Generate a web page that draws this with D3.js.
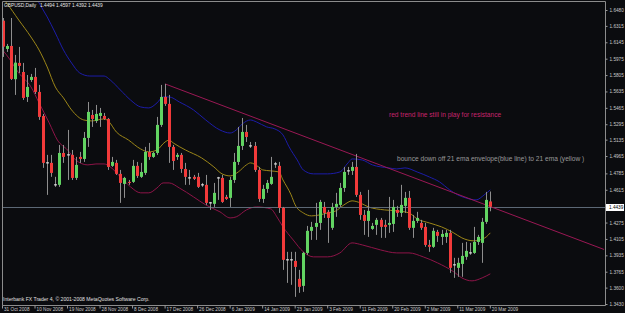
<!DOCTYPE html>
<html>
<head>
<meta charset="utf-8">
<script src="https://cdn.jsdelivr.net/npm/d3@7"></script>
<style>
  html, body { margin: 0; padding: 0; background: #0b0c0f; }
  svg { display: block; }
  text { font-family: "Liberation Sans", Arial, sans-serif; }
</style>
</head>
<body>
<div id="chart"></div>
<script>
// GBPUSD daily, bar 0 = 31 Oct 2008 ... bar 120 = 20 Mar 2009
const opens = [1.6369,1.6076,1.6107,1.5762,1.5931,1.5837,1.5578,1.5754,1.5786,1.5630,
  1.5381,1.4894,1.4894,1.4666,1.4666,1.4997,1.4977,1.4977,1.4738,1.4956,
  1.4935,1.5153,1.5391,1.5329,1.5381,1.5381,1.5350,1.4863,1.4894,1.4780,
  1.4676,1.4697,1.4697,1.4863,1.4749,1.4790,1.5008,1.4956,1.4997,1.5288,
  1.5578,1.5506,1.5060,1.4956,1.4977,1.4831,1.4738,1.4749,1.4749,1.4666,
  1.4666,1.4479,1.4469,1.4738,1.4738,1.4541,1.4531,1.4717,1.4904,1.5070,
  1.5215,1.5070,1.5070,1.4821,1.4520,1.4624,1.4676,1.4883,1.4863,1.4427,
  1.3888,1.3888,1.3877,1.3691,1.3618,1.3960,1.4189,1.4230,1.4271,1.4437,
  1.4386,1.4220,1.4437,1.4458,1.4634,1.4811,1.4811,1.4852,1.4562,1.4354,
  1.4292,1.4209,1.4251,1.4303,1.4251,1.4251,1.4261,1.4406,1.4375,1.4448,
  1.4531,1.4220,1.4292,1.4271,1.4230,1.4043,1.4023,1.4178,1.4126,1.4126,
  1.4168,1.3836,1.3805,1.3846,1.3919,1.3960,1.3960,1.4074,1.4064,1.4282,
  1.4494];
const highs = [1.6397,1.6128,1.6397,1.6014,1.6097,1.5931,1.5806,1.5817,1.5879,1.5703,
  1.5402,1.4977,1.4977,1.4749,1.5080,1.5080,1.5236,1.5028,1.4956,1.5008,
  1.5215,1.5526,1.5443,1.5495,1.5464,1.5412,1.5360,1.4956,1.4925,1.4821,
  1.4749,1.4717,1.4925,1.4904,1.4894,1.5060,1.5101,1.5008,1.5371,1.5703,
  1.5713,1.5599,1.5080,1.4997,1.4997,1.4894,1.4821,1.4769,1.4790,1.4686,
  1.4769,1.4489,1.4686,1.4749,1.4769,1.4562,1.4749,1.4997,1.5267,1.5360,
  1.5288,1.5111,1.5111,1.4852,1.4666,1.4717,1.4956,1.4904,1.4904,1.4437,
  1.3971,1.3971,1.3971,1.3784,1.3971,1.4240,1.4282,1.4479,1.4510,1.4489,
  1.4406,1.4479,1.4583,1.4686,1.4852,1.4852,1.4904,1.4987,1.4593,1.4406,
  1.4614,1.4271,1.4323,1.4323,1.4303,1.4541,1.4510,1.4448,1.4666,1.4593,
  1.4603,1.4354,1.4386,1.4303,1.4271,1.4095,1.4220,1.4199,1.4199,1.4199,
  1.4199,1.3909,1.3909,1.4064,1.4074,1.4064,1.4230,1.4147,1.4323,1.4593,
  1.4597];
const lows = [1.5993,1.6045,1.5754,1.5599,1.5827,1.5547,1.5526,1.5734,1.5609,1.5340,
  1.4842,1.4562,1.4749,1.4645,1.4645,1.4894,1.4717,1.4717,1.4717,1.4894,
  1.4904,1.5060,1.5267,1.5308,1.5267,1.5340,1.4821,1.4852,1.4769,1.4479,
  1.4531,1.4666,1.4686,1.4738,1.4738,1.4769,1.4925,1.4946,1.4977,1.5267,
  1.5485,1.4894,1.4821,1.4925,1.4790,1.4666,1.4666,1.4717,1.4634,1.4645,
  1.4458,1.4406,1.4437,1.4510,1.4479,1.4510,1.4437,1.4686,1.4873,1.5028,
  1.5111,1.5049,1.4800,1.4489,1.4479,1.4583,1.4666,1.4842,1.4375,1.3784,
  1.3649,1.3629,1.3504,1.3546,1.3556,1.3940,1.4095,1.4095,1.4199,1.4323,
  1.4064,1.4199,1.4334,1.4437,1.4593,1.4769,1.4769,1.4541,1.4303,1.4147,
  1.4126,1.4199,1.4147,1.4116,1.4116,1.4168,1.4178,1.4334,1.4334,1.4375,
  1.4199,1.4116,1.4271,1.4199,1.4023,1.3971,1.4012,1.4074,1.4043,1.4064,
  1.3753,1.3701,1.3712,1.3712,1.3888,1.3940,1.3950,1.4043,1.3857,1.4261,
  1.4392];
const closes = [1.6100,1.6107,1.5765,1.5934,1.5900,1.5568,1.5682,1.5786,1.5630,1.5371,
  1.4894,1.4894,1.4790,1.4666,1.4997,1.4956,1.4977,1.4738,1.4873,1.4935,
  1.5153,1.5423,1.5350,1.5402,1.5412,1.5350,1.4852,1.4904,1.4780,1.4686,
  1.4738,1.4686,1.4863,1.4759,1.4800,1.5008,1.4956,1.4997,1.5288,1.5578,
  1.5506,1.5060,1.4914,1.4977,1.4831,1.4749,1.4738,1.4728,1.4645,1.4666,
  1.4479,1.4479,1.4583,1.4738,1.4489,1.4520,1.4717,1.4904,1.5070,1.5215,
  1.5163,1.5070,1.4821,1.4520,1.4624,1.4686,1.4749,1.4883,1.4427,1.3888,
  1.3888,1.3888,1.3815,1.3608,1.3960,1.4189,1.4230,1.4271,1.4489,1.4375,
  1.4323,1.4437,1.4469,1.4634,1.4800,1.4811,1.4852,1.4562,1.4354,1.4292,
  1.4396,1.4240,1.4303,1.4230,1.4230,1.4271,1.4437,1.4375,1.4458,1.4531,
  1.4220,1.4292,1.4323,1.4220,1.4043,1.4023,1.4189,1.4137,1.4157,1.4168,
  1.3805,1.3836,1.3857,1.3929,1.3981,1.3960,1.4074,1.4126,1.4282,1.4510,
  1.4439];

// 21 ema (yellow) at these bars
const emaBars   = [0,1,4,7,9,11,13,15,17,20,22,25,26,28,31,34,36,38,40,41,42,45,49,52,54,56,58,60,61,63,64,66,68,69,71,72,74,76,78,80,82,84,86,88,90,94,97,100,102,105,108,111,113,116,117.5,119,120];
const emaValues = [1.6605,1.6553,1.6376,1.6200,1.6065,1.5889,1.5681,1.5568,1.5443,1.5339,1.5329,1.5350,1.5329,1.5215,1.5131,1.5038,1.5008,1.5028,1.5111,1.5131,1.5101,1.5028,1.4945,1.4852,1.4780,1.4759,1.4800,1.4873,1.4894,1.4852,1.4821,1.4811,1.4800,1.4717,1.4562,1.4458,1.4375,1.4344,1.4354,1.4375,1.4396,1.4458,1.4500,1.4479,1.4437,1.4406,1.4396,1.4375,1.4313,1.4271,1.4230,1.4168,1.4116,1.4085,1.4095,1.4126,1.4168];

// envelope upper band (blue)
const upperBars   = [8,9,11,13,15,17,19,21.5,25,26.5,29,31.5,34,36,38,39.5,41,43.5,47,50,53.5,56,57.5,59,61,62.5,65,67,69,70.5,72.5,74,76.5,80,83,85,86,88.5,91,95,97,99,102,105,107.5,110,112,114,116.5,118.5,120];
const upperValues = [1.6636,1.6553,1.6408,1.6241,1.6065,1.5930,1.5827,1.5795,1.5795,1.5754,1.5650,1.5546,1.5474,1.5464,1.5516,1.5578,1.5578,1.5526,1.5443,1.5339,1.5235,1.5204,1.5235,1.5298,1.5339,1.5318,1.5267,1.5246,1.5184,1.5060,1.4924,1.4820,1.4780,1.4780,1.4800,1.4894,1.4935,1.4924,1.4873,1.4842,1.4831,1.4842,1.4800,1.4748,1.4697,1.4614,1.4562,1.4530,1.4510,1.4562,1.4614];

// envelope lower band (crimson)
const lowerBars   = [0,1,4,7,9,11.5,13.5,16,18,21,23,25,26.5,29,31.5,34,36,38,39.5,41,43.5,47,50,53.5,56,57.5,60,62.5,66,67.5,69,71.5,74,76.5,80,83,86,88.5,93,97,100,103.5,107,111,113,115.5,118,120];
const lowerValues = [1.6065,1.6014,1.5827,1.5682,1.5516,1.5308,1.5131,1.5028,1.4924,1.4873,1.4883,1.4883,1.4852,1.4749,1.4645,1.4583,1.4583,1.4634,1.4686,1.4686,1.4634,1.4541,1.4458,1.4386,1.4323,1.4334,1.4406,1.4437,1.4417,1.4334,1.4230,1.4095,1.3971,1.3919,1.3919,1.3960,1.4064,1.4043,1.3991,1.3960,1.3960,1.3919,1.3857,1.3764,1.3701,1.3670,1.3701,1.3743];

// hand drawn resistance line, two anchors then extended to the right edge
const trendBars   = [40, 82];
const trendValues = [1.5713, 1.5045];

const priceTicks = [1.6480,1.6315,1.6145,1.5975,1.5805,1.5635,1.5465,1.5295,1.5135,1.4965,1.4785,1.4615,1.4275,1.4105,1.3935,1.3765,1.3600,1.3430];
const dateBars   = [0,8,16,24,32,40,48,56,64,72,80,88,96,104,112,120];
const dateLabels = ["31 Oct 2008","10 Nov 2008","19 Nov 2008","28 Nov 2008","8 Dec 2008","17 Dec 2008","26 Dec 2008","6 Jan 2009","14 Jan 2009","23 Jan 2009","3 Feb 2009","11 Feb 2009","20 Feb 2009","2 Mar 2009","11 Mar 2009","20 Mar 2009"];

const symbol = "GBPUSD,Daily";
const lastBid = 1.4439;


class CandleChart {

    width; height; plot;      // figure dimensions, plot = [left, top, right, bottom]
    svg; chart;
    scaleX; scaleY;

    constructor(container, width, height, plot){
        this.width = width;
        this.height = height;
        this.plot = plot;

        this.svg = d3.select(container)
            .append('svg')
            .attr('width', width)
            .attr('height', height);

        this.svg.append('rect')
            .attr('width', width).attr('height', height)
            .attr('fill', '#0b0c0f');

        this.svg.append('clipPath').attr('id', 'plotclip')
            .append('rect')
            .attr('x', plot[0]).attr('y', plot[1])
            .attr('width', plot[2] - plot[0]).attr('height', plot[3] - plot[1]);

        this.chart = this.svg.append('g').attr('clip-path', 'url(#plotclip)');
    }

    #scales(){
        // ~4.065px per daily bar, empty space kept on the right like MT4 shift
        this.scaleX = d3.scaleLinear([0, 148], [2.5, 2.5 + 148 * 4.065]);
        this.scaleY = d3.scaleLinear([1.3430, 1.6480], [304, 10]);
    }

    #frame(){
        const [l, t, r, b] = this.plot;
        this.svg.append('path')
            .attr('d', `M${l + 0.5},${b + 0.5}V${t + 0.5}H${r + 0.5}V${b + 0.5}H${l + 0.5}`)
            .attr('fill', 'none')
            .attr('stroke', '#8c8c8c')
            .attr('stroke-width', 1);
    }

    #axes(){
        const [l, t, r, b] = this.plot;

        const ax = this.svg.append('g')
            .attr('transform', `translate(${r + 0.5},0)`)
            .call(d3.axisRight(this.scaleY)
                .tickValues(priceTicks)
                .tickSize(2)
                .tickPadding(2)
                .tickFormat(d3.format('.4f')));
        ax.select('.domain').remove();
        ax.selectAll('line').attr('stroke', '#9a9a9a');
        ax.selectAll('text')
            .attr('fill', '#c8c8c8')
            .style('font-size', '4.7px');

        const bx = this.svg.append('g')
            .attr('transform', `translate(-0.5,${b + 0.5})`)
            .call(d3.axisBottom(this.scaleX)
                .tickValues(dateBars)
                .tickSize(3)
                .tickFormat((d, i) => dateLabels[i]));
        bx.select('.domain').remove();
        bx.selectAll('line').attr('stroke', '#9a9a9a');
        bx.selectAll('text')
            .attr('fill', '#c8c8c8')
            .attr('text-anchor', 'start')
            .attr('x', 1.5)
            .attr('y', 2)
            .style('font-size', '4.7px');
    }

    #bidLine(){
        const y = Math.round(this.scaleY(lastBid)) + 0.5;
        this.chart.append('line')
            .attr('x1', this.plot[0]).attr('x2', this.plot[2])
            .attr('y1', y).attr('y2', y)
            .attr('stroke', '#5c6875')
            .attr('stroke-width', 1);

        const g = this.svg.append('g')
            .attr('transform', `translate(${this.plot[2] + 1},${y})`);
        g.append('rect')
            .attr('x', 0).attr('y', -3.5)
            .attr('width', 18).attr('height', 7)
            .attr('fill', '#ffffff');
        g.append('text')
            .attr('x', 3).attr('dy', '0.34em')
            .attr('fill', '#000')
            .style('font-size', '4.7px')
            .text(d3.format('.4f')(lastBid));
    }

    #lines(){
        const band = (bars, vals, colour, width) => {
            const pts = bars.map((b, i) => [b, vals[i]]);
            const gen = d3.line()
                .curve(d3.curveMonotoneX)
                .x(d => this.scaleX(d[0]))
                .y(d => this.scaleY(d[1]));
            this.chart.append('path')
                .datum(pts)
                .attr('d', gen)
                .attr('fill', 'none')
                .attr('stroke', colour)
                .attr('stroke-width', width);
        };
        band(upperBars, upperValues, '#1c1ca8', 1);
        band(lowerBars, lowerValues, '#8e1448', 1);
        band(emaBars, emaValues, '#9c8618', 1);
    }

    #candles(){
        const bars = d3.range(opens.length);
        const bw = 3;

        // wicks
        this.chart.selectAll('.wick')
            .data(bars)
            .join('line')
            .attr('class', 'wick')
            .attr('x1', i => Math.round(this.scaleX(i)) + 0.5)
            .attr('x2', i => Math.round(this.scaleX(i)) + 0.5)
            .attr('y1', i => this.scaleY(highs[i]))
            .attr('y2', i => this.scaleY(lows[i]))
            .attr('stroke', '#8e8e8e')
            .attr('stroke-width', 1);

        // bodies
        this.chart.selectAll('.body')
            .data(bars)
            .join('rect')
            .attr('class', 'body')
            .attr('x', i => Math.round(this.scaleX(i)) + 0.5 - bw / 2)
            .attr('width', bw)
            .attr('y', i => {
                const top = this.scaleY(Math.max(opens[i], closes[i]));
                const h = Math.abs(this.scaleY(opens[i]) - this.scaleY(closes[i]));
                return h < 1 ? top - 0.5 : top;
            })
            .attr('height', i => Math.max(1, Math.abs(this.scaleY(opens[i]) - this.scaleY(closes[i]))))
            .attr('fill', i => {
                if (Math.abs(this.scaleY(opens[i]) - this.scaleY(closes[i])) < 1) return '#f0f0f0';
                return closes[i] >= opens[i] ? '#62d462' : '#f23a3a';
            });
    }

    #trend(){
        // extend the two anchors to the right edge of the plot
        const slope = (trendValues[1] - trendValues[0]) / (trendBars[1] - trendBars[0]);
        const endBar = this.scaleX.domain()[1];
        const pts = [[trendBars[0], trendValues[0]],
                     [endBar, trendValues[0] + slope * (endBar - trendBars[0])]];
        this.chart.append('line')
            .attr('x1', this.scaleX(pts[0][0])).attr('y1', this.scaleY(pts[0][1]))
            .attr('x2', this.scaleX(pts[1][0])).attr('y2', this.scaleY(pts[1][1]))
            .attr('stroke', '#9a1854')
            .attr('stroke-width', 1);
    }

    #texts(){
        const t = (x, y, str, size, colour) => this.svg.append('text')
            .attr('x', x).attr('y', y)
            .attr('fill', colour)
            .style('font-size', size + 'px')
            .text(str);

        t(4, 7, symbol, 4.8, '#e6e6e6');
        t(40, 7, [opens, highs, lows, closes].map(a => a[a.length - 1].toFixed(4)).join(' '), 4.8, '#e6e6e6');
        t(3, 301, 'Interbank FX Trader 4, \u00a9 2001-2008 MetaQuotes Software Corp.', 5.1, '#e0e0e0');
        t(389, 116.5, 'red trend line still in play for resistance', 6.6, '#c8246e');
        t(397, 160.5, 'bounce down off 21 ema envelope(blue line) to 21 ema (yellow )', 6.6, '#9a9a9a');
    }

    render(){
        this.#scales();
        this.#lines();
        this.#bidLine();
        this.#trend();
        this.#candles();
        this.#frame();
        this.#axes();
        this.#texts();
        return this;
    }
}

new CandleChart('#chart', 625, 313, [2, 1, 605, 305]).render();
</script>
</body>
</html>
